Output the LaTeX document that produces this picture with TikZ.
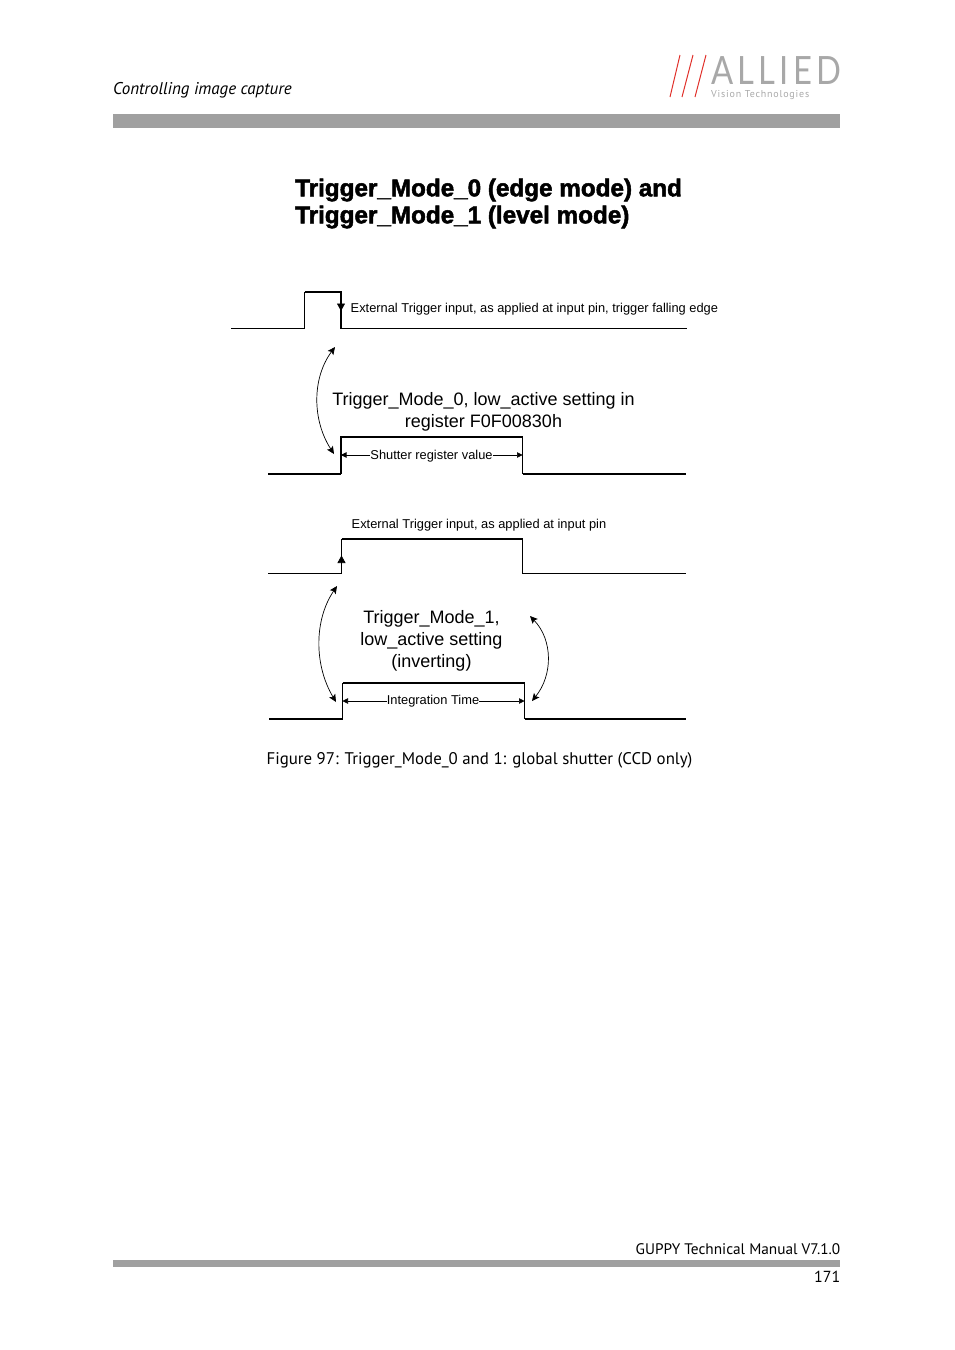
\documentclass[tikz,border=0pt]{standalone}
\usepackage{fontspec}
\setmainfont{Liberation Sans}
\newfontfamily\thesis{PT Sans}
\newfontfamily\logofont[LetterSpace=11,FakeStretch=0.84]{Lato}
\newfontfamily\logosub[LetterSpace=8]{PT Sans}
\newfontfamily\titlefont[BoldFeatures={FakeBold=2}]{Liberation Sans}
\usetikzlibrary{arrows.meta}
\definecolor{bargray}{HTML}{A0A0A0}
\definecolor{logogray}{HTML}{A8A8A8}
\definecolor{logored}{HTML}{E0302A}
\tikzset{
  x=1pt,y=-1pt,
  bar/.style={fill=bargray,draw=none},
  thinw/.style={draw=black,line width=1pt},
  midw/.style={draw=black,line width=1.25pt},
  thickw/.style={draw=black,line width=1.8pt},
  tip/.style={line width=0.7pt,{Stealth[length=7.5pt,width=7pt,inset=1.5pt]}-{Stealth[length=7.5pt,width=7pt,inset=1.5pt]}},
  dim/.style={line width=0.6pt,-{Triangle[length=5.5pt,width=5.5pt]}},
  edge tip/.style={line width=0.6pt,-{Triangle[length=7.5pt,width=8pt]}},
  page/.style={font=\thesis\fontsize{16}{18}\selectfont,inner sep=0pt},
  small/.style={font=\fontsize{12.85}{15}\selectfont,inner sep=0pt},
  large/.style={font=\fontsize{18}{22}\selectfont,inner sep=0pt,align=center},
  titlet/.style={font=\titlefont\bfseries\fontsize{24.25}{27}\selectfont,inner sep=0pt,align=left},
  slash/.style={draw=logored,line width=1pt},
}
\begin{document}
\begin{tikzpicture}
\useasboundingbox (0,0) rectangle (954,1350);
% header
\node[page,anchor=west,font=\thesis\itshape\fontsize{17}{19}\selectfont] (head) at (113,90.5) {Controlling image capture};
\fill[bar] (113,114) rectangle (840,128);
\draw[slash] (670,97) -- (680,55);
\draw[slash] (682,97) -- (693,55);
\draw[slash] (695,97) -- (706,55);
\node[anchor=west,inner sep=0pt,text=logogray,font=\logofont\fontsize{39}{40}\selectfont] (logo) at (711,70.5) {ALLIED};
\node[anchor=west,inner sep=0pt,text=logogray,font=\logosub\fontsize{10}{12}\selectfont] (logos) at (711,95) {Vision Technologies};
% title
\node[titlet,anchor=north west] (title) at (295,178.5) {Trigger\_Mode\_0 (edge mode) and\\Trigger\_Mode\_1 (level mode)};
% wave 1
\coordinate (a0) at (231,328.5); \coordinate (a1) at (304.5,328.5); \coordinate (a2) at (304.5,292);
\coordinate (a3) at (341,292); \coordinate (a4) at (341,328.5); \coordinate (a5) at (687,328.5);
\draw[thinw] (a0) -- (a1) -- (a2);
\draw[thickw,line join=miter] (a2) -- (a3) -- (a4);
\draw[thinw] (a4) -- (a5);
\coordinate (a6) at (341,297); \coordinate (a7) at (341,311);
\draw[edge tip] (a6) -- (a7);
\node[small,anchor=west] (t1) at (350.5,309) {External Trigger input, as applied at input pin, trigger falling edge};
% curve 1
\coordinate (c1a) at (335,347); \coordinate (c1b) at (334,454);
\draw[tip] (c1a) .. controls (312,378) and (312,420) .. (c1b);
\node[large] (t2) at (483.5,411.5) {Trigger\_Mode\_0, low\_active setting in\\register F0F00830h};
% wave 2
\coordinate (b0) at (268,473.8); \coordinate (b1) at (341,473.8); \coordinate (b2) at (341,437);
\coordinate (b3) at (522.5,437); \coordinate (b4) at (522.5,473.8); \coordinate (b5) at (686,473.8);
\draw[thickw] (b0) -- (b1);
\draw[midw] (b1) -- (b2) -- (b3) -- (b4);
\draw[thickw] (b4) -- (b5);
\node[small] (t3) at (431.5,456) {Shutter register value};
\coordinate (b6) at (341,455); \coordinate (b7) at (522.5,455);
\draw[dim] (t3.west |- b6) -- (b6);
\draw[dim] (t3.east |- b7) -- (b7);
% wave 3
\node[small,anchor=west] (t4) at (351.5,525) {External Trigger input, as applied at input pin};
\coordinate (d0) at (268,573.5); \coordinate (d1) at (341.5,573.5); \coordinate (d2) at (341.5,539);
\coordinate (d3) at (522.5,539); \coordinate (d4) at (522.5,573.5); \coordinate (d5) at (686,573.5);
\draw[thinw] (d0) -- (d1);
\draw[midw] (d1) -- (d2);
\draw[thickw] (d2) -- (d3);
\draw[midw] (d3) -- (d4);
\draw[thinw] (d4) -- (d5);
\coordinate (d6) at (341.5,570); \coordinate (d7) at (341.5,555.5);
\draw[edge tip] (d6) -- (d7);
% curves 2
\coordinate (c2a) at (337,586); \coordinate (c2b) at (336,702);
\draw[tip] (c2a) .. controls (314,620) and (314,665) .. (c2b);
\coordinate (c3a) at (530,616); \coordinate (c3b) at (532,701);
\draw[tip] (c3a) .. controls (553,640) and (553,675) .. (c3b);
\node[large] (t5) at (431.5,641) {Trigger\_Mode\_1,\\low\_active setting\\(inverting)};
% wave 4
\coordinate (e0) at (269,719); \coordinate (e1) at (342.5,719); \coordinate (e2) at (342.5,683);
\coordinate (e3) at (524.5,683); \coordinate (e4) at (524.5,719); \coordinate (e5) at (686,719);
\draw[thickw] (e0) -- (e1);
\draw[midw] (e1) -- (e2);
\draw[thickw] (e2) -- (e3);
\draw[midw] (e3) -- (e4);
\draw[thickw] (e4) -- (e5);
\node[small] (t6) at (433,701) {Integration Time};
\coordinate (e6) at (342.5,701); \coordinate (e7) at (524.5,701);
\draw[dim] (t6.west |- e6) -- (e6);
\draw[dim] (t6.east |- e7) -- (e7);
% caption
\node[page,font=\thesis\fontsize{16.85}{18}\selectfont] (cap) at (479.5,760) {Figure 97: Trigger\_Mode\_0 and 1: global shutter (CCD only)};
% footer
\node[page,anchor=east,font=\thesis\fontsize{15.3}{18}\selectfont] (foot) at (840.5,1249.5) {GUPPY Technical Manual V7.1.0};
\fill[bar] (113,1260) rectangle (840,1267);
\node[page,anchor=east] (pg) at (840.5,1276.5) {171};
\end{tikzpicture}
\end{document}
